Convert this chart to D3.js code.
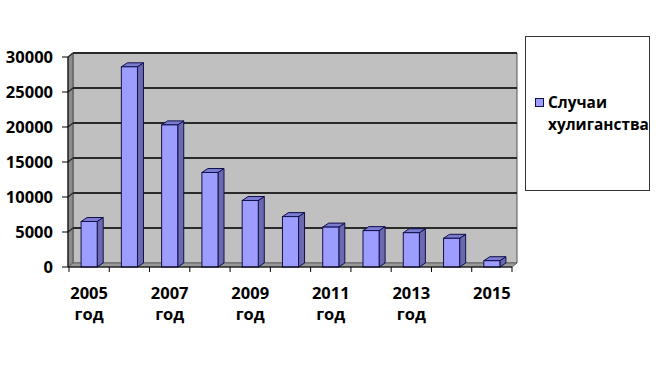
<!DOCTYPE html>
<html>
<head>
<meta charset="utf-8">
<script src="https://cdn.jsdelivr.net/npm/d3@7"></script>
<style>
  body { margin: 0; background: #fff; }
  svg text { font-family: "Open Sans", "Liberation Sans", sans-serif; font-weight: bold; fill: #000; }
</style>
</head>
<body>
<svg id="chart" width="656" height="379"></svg>
<script>
// data
const years = [2005, 2006, 2007, 2008, 2009, 2010, 2011, 2012, 2013, 2014, 2015];
const cases = [6500, 28600, 20300, 13500, 9500, 7200, 5700, 5200, 4900, 4100, 900];
const yTicks = [0, 5000, 10000, 15000, 20000, 25000, 30000];
const labelYears = [2005, 2007, 2009, 2011, 2013, 2015];
const yearLabels = ['2005', '2007', '2009', '2011', '2013', '2015'];
const yearSuffix = ['год', 'год', 'год', 'год', 'год', ''];
const seriesName = ['Случаи', 'хулиганства'];

const svg = d3.select('#chart');

// 3D depth offset
const dx = 5, dy = -4;

const x = d3.scaleBand()
    .domain(years)
    .range([69, 512])
    .paddingInner(0.6)
    .paddingOuter(0.3);

const y = d3.scaleLinear()
    .domain([0, 30000])
    .range([267, 57]);

const x0 = x.range()[0] - 1, x1 = x.range()[1];
const pts = p => p.map(d => d.join(',')).join(' ');

// back wall
svg.append('polygon')
    .attr('points', pts([[x0 + dx, y(30000) + dy], [x1 + dx, y(30000) + dy], [x1 + dx, y(0) + dy], [x0 + dx, y(0) + dy]]))
    .attr('fill', '#c0c0c0')
    .attr('stroke', '#555')
    .attr('stroke-width', 1);

// left wall
svg.append('polygon')
    .attr('points', pts([[x0, y(30000)], [x0 + dx, y(30000) + dy], [x0 + dx, y(0) + dy], [x0, y(0)]]))
    .attr('fill', '#8c8c8c')
    .attr('stroke', '#555')
    .attr('stroke-width', 1);

// floor
svg.append('polygon')
    .attr('points', pts([[x0, y(0)], [x0 + dx, y(0) + dy], [x1 + dx, y(0) + dy], [x1, y(0)]]))
    .attr('fill', '#9a9a9a')
    .attr('stroke', '#666')
    .attr('stroke-width', 1);

// gridlines
const grid = svg.append('g');
yTicks.filter(t => t > 0).forEach(t => {
    grid.append('line')
        .attr('x1', x0 + dx).attr('x2', x1 + dx)
        .attr('y1', y(t) + dy).attr('y2', y(t) + dy)
        .attr('stroke', '#2a2a2a').attr('stroke-width', 1.8);
    grid.append('line')
        .attr('x1', x0).attr('x2', x0 + dx)
        .attr('y1', y(t)).attr('y2', y(t) + dy)
        .attr('stroke', '#2a2a2a').attr('stroke-width', 1.5);
});

// bars
const bars = svg.append('g')
    .selectAll('g')
    .data(years.map((yr, i) => ({ yr, v: cases[i] })))
    .enter().append('g');

bars.append('polygon') // side
    .attr('points', d => {
        const r = x(d.yr) + x.bandwidth();
        return pts([[r, y(d.v)], [r + dx + 1, y(d.v) + dy], [r + dx + 1, y(0) + dy], [r, y(0)]]);
    })
    .attr('fill', '#6a6ab0')
    .attr('stroke', '#10104a').attr('stroke-width', 1);

bars.append('polygon') // top
    .attr('points', d => {
        const l = x(d.yr), r = l + x.bandwidth();
        return pts([[l, y(d.v)], [l + dx + 1, y(d.v) + dy], [r + dx + 1, y(d.v) + dy], [r, y(d.v)]]);
    })
    .attr('fill', '#7b7bd0')
    .attr('stroke', '#10104a').attr('stroke-width', 1);

bars.append('rect') // front
    .attr('x', d => x(d.yr))
    .attr('y', d => y(d.v))
    .attr('width', x.bandwidth())
    .attr('height', d => y(0) - y(d.v))
    .attr('fill', '#9d9dff')
    .attr('stroke', '#10104a').attr('stroke-width', 1);

// y axis
const yAxis = svg.append('g');
yAxis.append('line')
    .attr('x1', x0).attr('x2', x0)
    .attr('y1', y(30000)).attr('y2', y(0))
    .attr('stroke', '#000').attr('stroke-width', 1);
yTicks.forEach(t => {
    yAxis.append('line')
        .attr('x1', x0 - 6).attr('x2', x0)
        .attr('y1', y(t)).attr('y2', y(t))
        .attr('stroke', '#000').attr('stroke-width', 1);
    yAxis.append('text')
        .attr('x', 53).attr('y', y(t))
        .attr('dy', '0.36em')
        .attr('text-anchor', 'end')
        .attr('font-size', 16.5)
        .text(t);
});

// x axis
const xAxis = svg.append('g');
xAxis.append('line')
    .attr('x1', x0).attr('x2', x1)
    .attr('y1', y(0)).attr('y2', y(0))
    .attr('stroke', '#000').attr('stroke-width', 1);
const step = x.step();
d3.range(years.length + 1).forEach(i => {
    const tx = x.range()[0] + i * step;
    xAxis.append('line')
        .attr('x1', tx).attr('x2', tx)
        .attr('y1', y(0)).attr('y2', y(0) + 5)
        .attr('stroke', '#000').attr('stroke-width', 1);
});
labelYears.forEach((yr, i) => {
    const cx = x(yr) + x.bandwidth() / 2;
    xAxis.append('text')
        .attr('x', cx).attr('y', 299)
        .attr('text-anchor', 'middle')
        .attr('font-size', 16.5)
        .text(yearLabels[i]);
    xAxis.append('text')
        .attr('x', cx).attr('y', 320)
        .attr('text-anchor', 'middle')
        .attr('font-size', 16.5)
        .text(yearSuffix[i]);
});

// legend
const legend = svg.append('g');
legend.append('rect')
    .attr('x', 525.5).attr('y', 36.5)
    .attr('width', 124).attr('height', 154)
    .attr('fill', '#fff')
    .attr('stroke', '#333').attr('stroke-width', 1);
legend.append('rect')
    .attr('x', 535.5).attr('y', 98.5)
    .attr('width', 8).attr('height', 8)
    .attr('fill', '#9d9dff')
    .attr('stroke', '#10104a').attr('stroke-width', 1);
legend.selectAll('text.lg')
    .data(seriesName)
    .enter().append('text')
    .attr('class', 'lg')
    .attr('x', 548)
    .attr('y', (d, i) => 108 + i * 22)
    .attr('font-size', 15.4)
    .text(d => d);
</script>
</body>
</html>
